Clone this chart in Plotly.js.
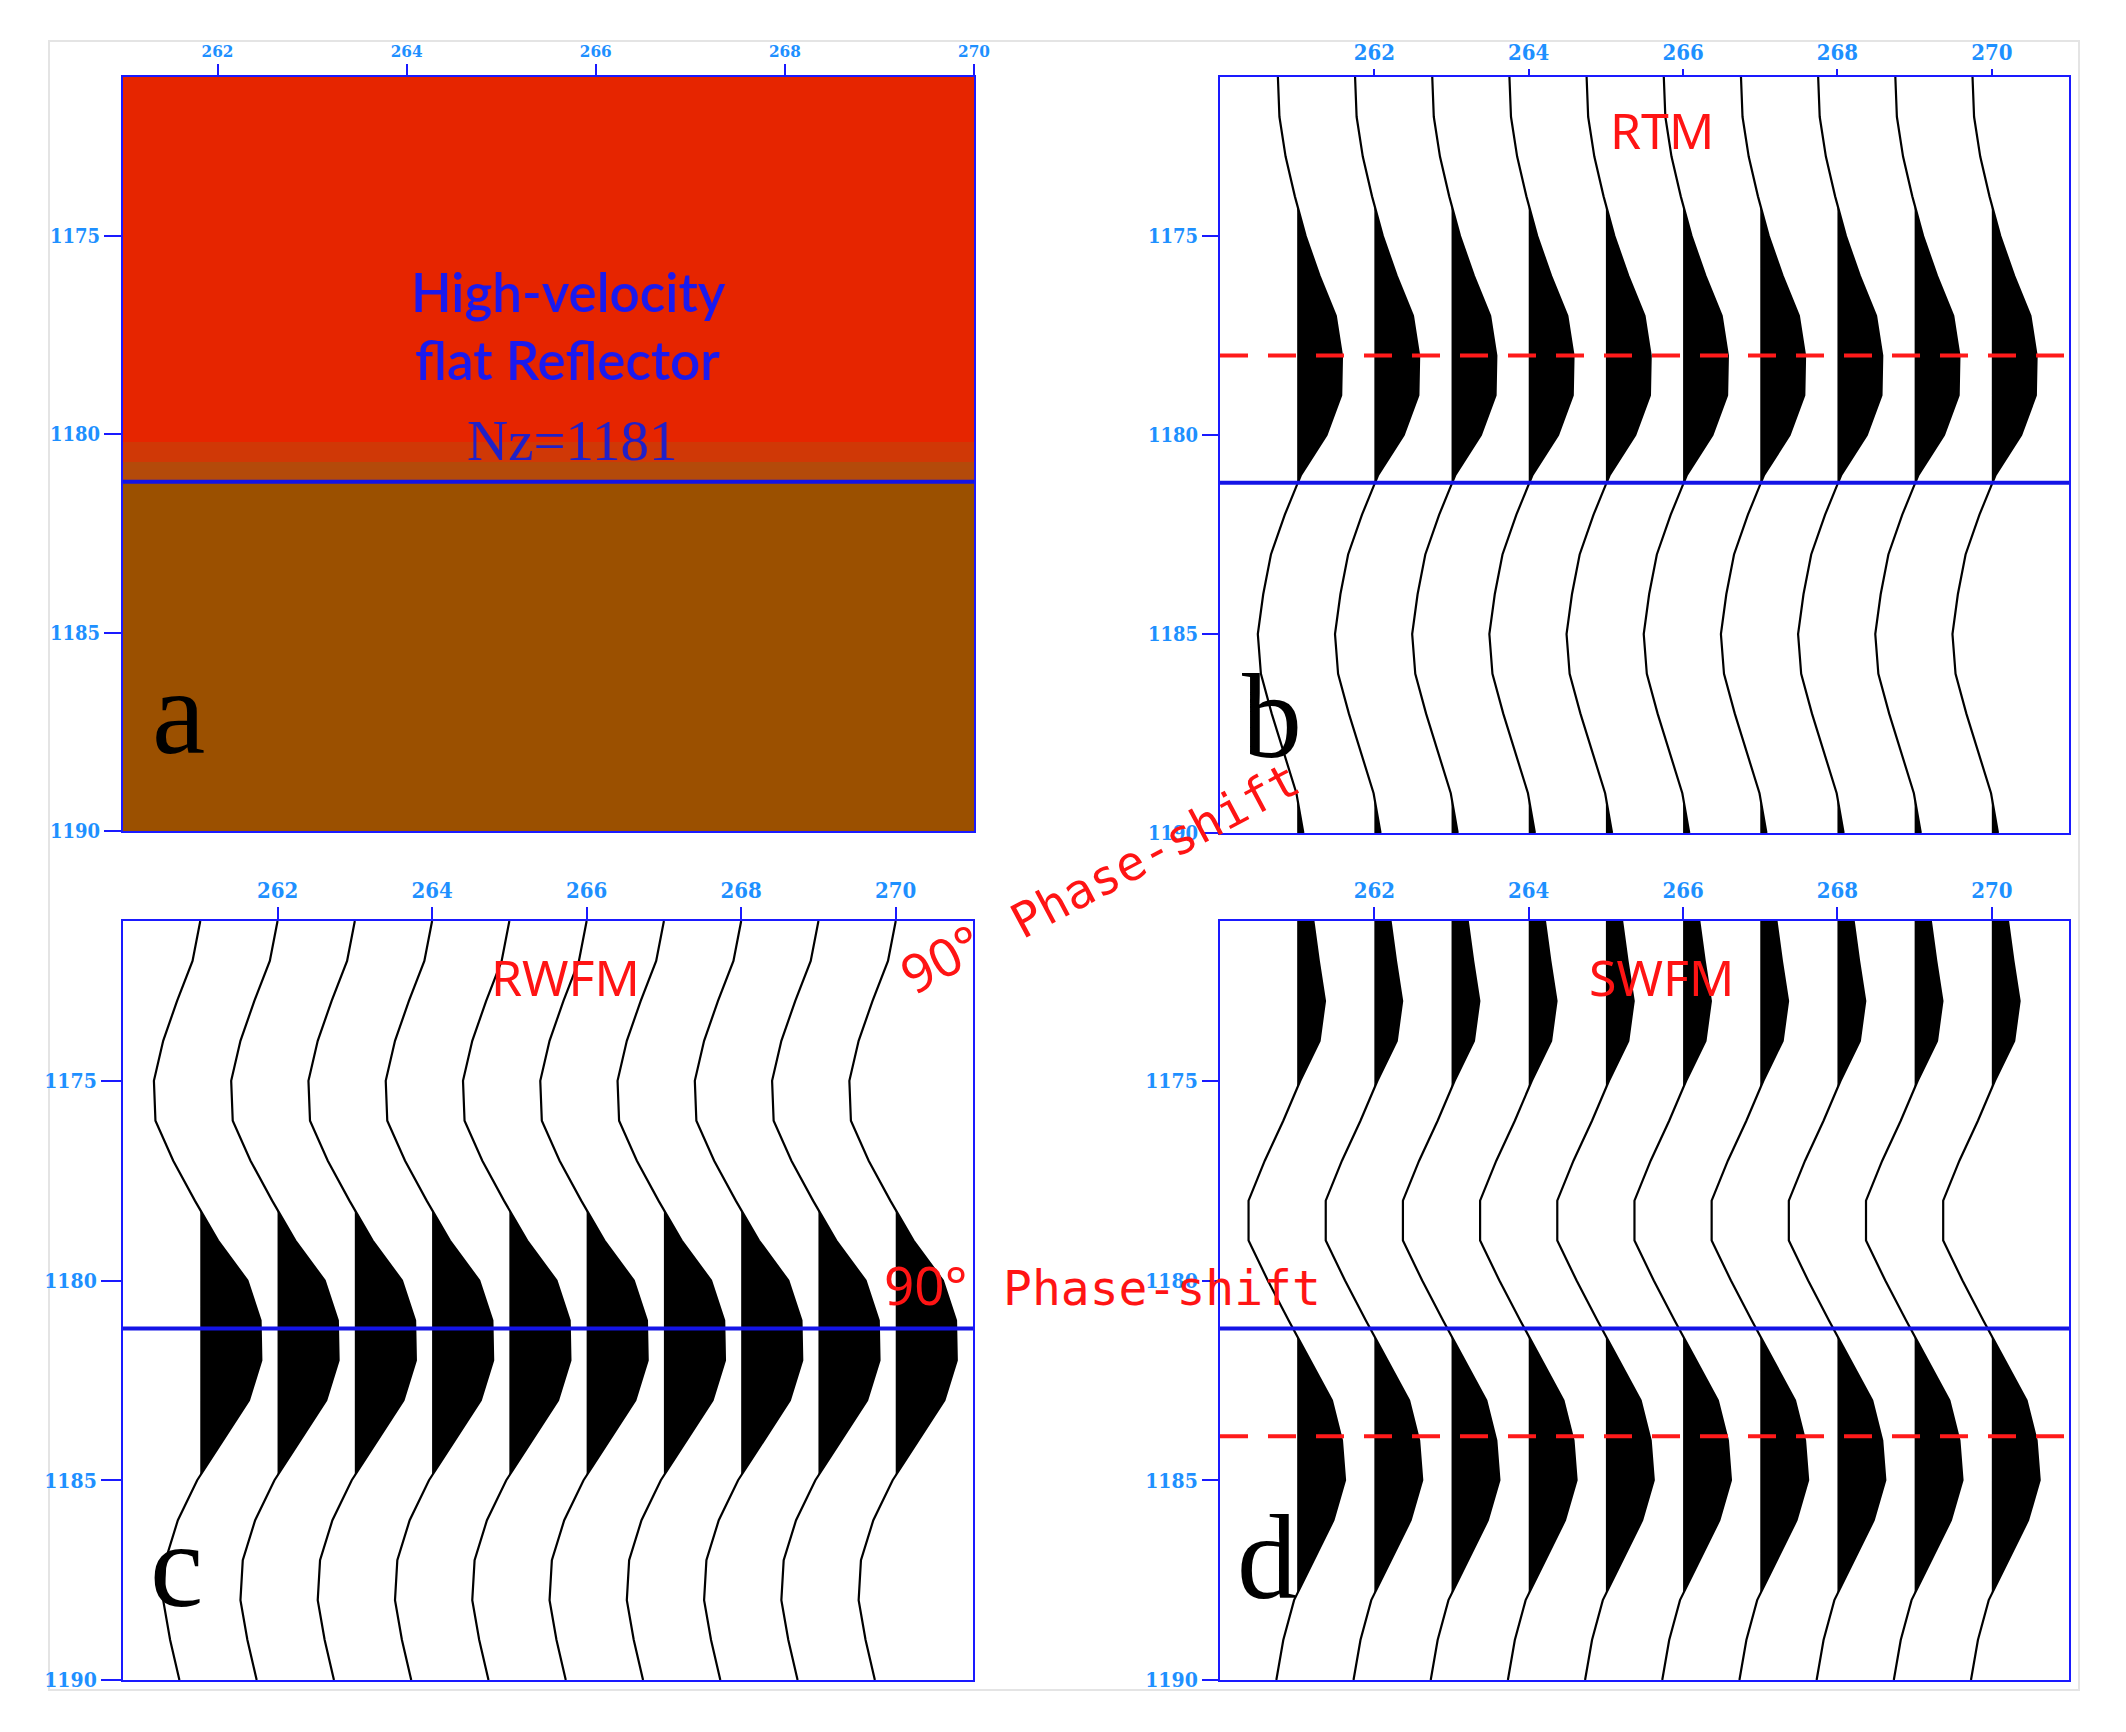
<!DOCTYPE html>
<html><head><meta charset="utf-8">
<script src="https://cdn.plot.ly/plotly-3.0.1.min.js"></script>
<style>html,body{margin:0;padding:0;background:#fff}</style>
</head><body><div id="chart" style="width:2126px;height:1732px"></div>
<script>
// ---------------- data ----------------
const depths = [1171,1172,1173,1174,1175,1176,1177,1178,1179,1180,1181,1182,1183,1184,1185,1186,1187,1188,1189,1190];
const tracePositions = [261,262,263,264,265,266,267,268,269,270];
const rtmAmp  = [-0.25,-0.23,-0.15,-0.03,0.11,0.29,0.50,0.58,0.57,0.38,0.05,-0.16,-0.34,-0.44,-0.51,-0.47,-0.33,-0.17,-0.01,0.08];
const rwfmAmp = [0.00,-0.10,-0.30,-0.48,-0.60,-0.58,-0.35,-0.07,0.23,0.61,0.78,0.79,0.63,0.30,-0.04,-0.29,-0.45,-0.48,-0.39,-0.27];
const swfmAmp = [0.21,0.28,0.36,0.29,0.04,-0.18,-0.42,-0.63,-0.63,-0.38,-0.11,0.17,0.45,0.58,0.62,0.47,0.22,-0.04,-0.18,-0.27];
const xTicks = [262,264,266,268,270];
const yTicks = [1175,1180,1185,1190];
const reflectorDepth = 1181.2;
const rtmPeakDepth = 1178.0;
const swfmPeakDepth = 1183.9;
const modelLayerEdges = [1171,1180.2,1180.7,1181.2,1190];
const modelLayerValue = [1,0.66,0.33,0];
const modelXEdges = [261,270];

// ---------------- helpers ----------------
const W = 2126, H = 1732;
const px = v => v / W;
const py = v => 1 - v / H;
const BLUE = '#1a1aff';
const TICKBLUE = '#1e90ff';
const TICKFAMILY = 'DejaVu Serif Condensed, DejaVu Serif';

function xAxis(dom, range, anchor, ticklen, fsize) {
  return {domain:[px(dom[0]),px(dom[1])], range:range, side:'top', anchor:anchor,
    tickmode:'array', tickvals:xTicks, ticks:'outside', ticklen:ticklen, tickwidth:2, tickcolor:BLUE,
    showline:true, mirror:true, linecolor:BLUE, linewidth:2, showgrid:false, zeroline:false,
    tickfont:{family:TICKFAMILY, size:fsize, color:TICKBLUE, weight:'bold'}, fixedrange:true};
}
function yAxis(dom, anchor, ticklen, fsize) {
  return {domain:[py(dom[1]),py(dom[0])], range:[1190,1171], anchor:anchor,
    tickmode:'array', tickvals:yTicks, ticks:'outside', ticklen:ticklen, tickwidth:2, tickcolor:BLUE,
    showline:true, mirror:true, linecolor:BLUE, linewidth:2, showgrid:false, zeroline:false,
    tickfont:{family:TICKFAMILY, size:fsize, color:TICKBLUE, weight:'bold'}, fixedrange:true};
}

const traces = [];
// panel a : velocity model
traces.push({type:'heatmap', x:modelXEdges, y:modelLayerEdges, z:modelLayerValue.map(v=>[v]),
  zmin:0, zmax:1, showscale:false, hoverinfo:'skip', xaxis:'x', yaxis:'y',
  colorscale:[[0,'#9b5000'],[0.33,'#b44a0a'],[0.66,'#d03806'],[1,'#e62500']]});

function wiggles(amp, xa, ya) {
  const fills = [], lines = [];
  tracePositions.forEach(pos => {
    const fx = [pos], fy = [depths[0]];
    for (let i = 0; i < depths.length; i++) {
      if (i > 0) {
        const a0 = amp[i-1], a1 = amp[i];
        if ((a0 > 0 && a1 < 0) || (a0 < 0 && a1 > 0)) {
          const t = a0 / (a0 - a1);
          fx.push(pos); fy.push(depths[i-1] + t * (depths[i] - depths[i-1]));
        }
      }
      fx.push(pos + Math.max(0, amp[i])); fy.push(depths[i]);
    }
    fx.push(pos); fy.push(depths[depths.length-1]);
    fills.push({x:fx, y:fy, mode:'lines', fill:'toself', fillcolor:'#000',
      line:{width:0, color:'rgba(0,0,0,0)'}, xaxis:xa, yaxis:ya, hoverinfo:'skip', showlegend:false});
    lines.push({x:amp.map(a => pos + a), y:depths, mode:'lines', line:{color:'#000', width:2.2},
      xaxis:xa, yaxis:ya, hoverinfo:'skip', showlegend:false});
  });
  return fills.concat(lines);
}
traces.push(...wiggles(rtmAmp, 'x2', 'y2'));
traces.push(...wiggles(rwfmAmp, 'x3', 'y3'));
traces.push(...wiggles(swfmAmp, 'x4', 'y4'));

function hline(xr, yr, y, color, width, dash) {
  return {type:'line', xref:xr + ' domain', x0:0, x1:1, yref:yr, y0:y, y1:y, layer:'above',
    line:{color:color, width:width, dash:dash || 'solid'}};
}
const shapes = [
  {type:'rect', xref:'paper', yref:'paper', x0:px(49), x1:px(2079), y0:py(1690), y1:py(41),
   line:{color:'#e4e4e4', width:2}, layer:'below'},
  hline('x','y',reflectorDepth,'#1414e6',4),
  hline('x2','y2',reflectorDepth,'#1414e6',4),
  hline('x3','y3',reflectorDepth,'#1414e6',4),
  hline('x4','y4',reflectorDepth,'#1414e6',4),
  hline('x2','y2',rtmPeakDepth,'#ff1a1a',4,'28px,20px'),
  hline('x4','y4',swfmPeakDepth,'#ff1a1a',4,'28px,20px')
];

function ann(text, x, y, font, extra) {
  return Object.assign({text:text, xref:'paper', yref:'paper', x:px(x), y:py(y),
    xanchor:'center', yanchor:'middle', showarrow:false, font:font}, extra || {});
}
const serifBlack = {family:'Liberation Serif', size:120, color:'#000'};
const redSans = {family:'Noto Sans', size:50, color:'#ff1414'};
const redMono = {family:'DejaVu Sans Mono', size:48, color:'#ff1414'};
const blueSans = {family:'Lato', size:53, color:'#1a1aee', weight:600};
const annotations = [
  ann('High-velocity', 568, 292, blueSans),
  ann('flat Reflector', 567, 359, blueSans),
  ann('Nz=1181', 572, 441, {family:'Liberation Serif', size:57, color:'#2020c8'}),
  ann('a', 178, 712, serifBlack),
  ann('b', 1272, 716, serifBlack),
  ann('c', 176, 1565, serifBlack),
  ann('d', 1267, 1557, serifBlack),
  ann('RTM', 1662, 130, redSans),
  ann('RWFM', 565, 977, redSans),
  ann('SWFM', 1661, 977, redSans),
  ann('90°', 925, 1284, {family:'Noto Sans', size:53, color:'#ff1414'}),
  ann('Phase-shift', 1162, 1288, redMono),
  ann('90°', 940, 958, {family:'Noto Sans', size:53, color:'#ff1414'}, {textangle:-28}),
  ann('Phase-shift', 1155, 850, redMono, {textangle:-28})
];

const layout = {
  width:W, height:H, margin:{l:0,r:0,t:0,b:0}, paper_bgcolor:'#fff', plot_bgcolor:'#fff',
  showlegend:false,
  xaxis: xAxis([123,974],[261,270],'y',11,17),
  yaxis: yAxis([77,831],'x',17,20),
  xaxis2: xAxis([1220,2069],[260,271],'y2',6,22),
  yaxis2: yAxis([77,833],'x2',16,20),
  xaxis3: xAxis([123,973],[260,271],'y3',12,22),
  yaxis3: yAxis([921,1680],'x3',20,21),
  xaxis4: xAxis([1220,2069],[260,271],'y4',12,22),
  yaxis4: yAxis([921,1680],'x4',16,21),
  shapes:shapes, annotations:annotations
};
Plotly.newPlot('chart', traces, layout, {displayModeBar:false, staticPlot:true});
</script></body></html>
